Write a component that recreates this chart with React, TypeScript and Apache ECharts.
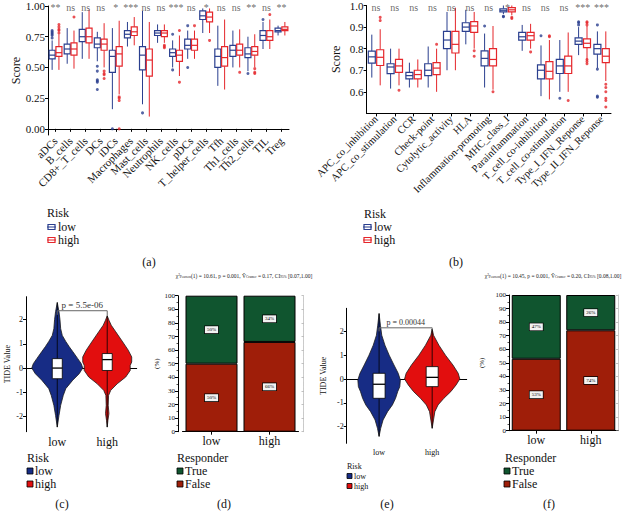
import React, { useEffect, useRef } from "react";
import * as echarts from "echarts";

const SERIF = "'Liberation Serif', 'Times New Roman', serif";
const LOW_BLUE = "#2a3f8f";
const HIGH_RED = "#e5262b";
const VIOLIN_BLUE = "#172c85";
const VIOLIN_RED = "#e20e0e";
const TRUE_GREEN = "#10552f";
const FALSE_RED = "#9f1e09";

// ---------- panel (a): immune cells ----------
const immuneCells = ["aDCs", "B_cells", "CD8+_T_cells", "DCs", "iDCs", "Macrophages", "Mast_cells", "Neutrophils", "NK_cells", "pDCs", "T_helper_cells", "Tfh", "Th1_cells", "Th2_cells", "TIL", "Treg"];
// [min, Q1, median, Q3, max]
const immuneLowBox = [
  [0.48, 0.57, 0.60, 0.64, 0.72], [0.53, 0.61, 0.65, 0.69, 0.82], [0.57, 0.71, 0.75, 0.81, 0.95], [0.55, 0.66, 0.69, 0.74, 0.79],
  [0.16, 0.46, 0.59, 0.64, 0.82], [0.67, 0.74, 0.77, 0.80, 0.87], [0.20, 0.48, 0.60, 0.67, 0.96], [0.70, 0.76, 0.78, 0.80, 0.85],
  [0.50, 0.59, 0.62, 0.65, 0.72], [0.57, 0.65, 0.68, 0.73, 0.80], [0.78, 0.89, 0.92, 0.96, 0.98], [0.35, 0.50, 0.59, 0.65, 0.84],
  [0.50, 0.59, 0.64, 0.68, 0.80], [0.47, 0.58, 0.61, 0.66, 0.75], [0.65, 0.72, 0.76, 0.80, 0.87], [0.76, 0.79, 0.80, 0.82, 0.84],
];
const immuneHighBox = [
  [0.48, 0.59, 0.62, 0.67, 0.77], [0.49, 0.60, 0.65, 0.70, 0.80], [0.57, 0.70, 0.75, 0.82, 0.97], [0.50, 0.64, 0.69, 0.73, 0.86],
  [0.28, 0.51, 0.61, 0.67, 0.88], [0.68, 0.76, 0.79, 0.83, 0.91], [0.10, 0.43, 0.56, 0.65, 0.87], [0.70, 0.75, 0.78, 0.80, 0.85],
  [0.43, 0.55, 0.60, 0.64, 0.76], [0.57, 0.64, 0.68, 0.73, 0.80], [0.78, 0.87, 0.91, 0.95, 0.98], [0.32, 0.51, 0.58, 0.67, 0.89],
  [0.50, 0.60, 0.64, 0.69, 0.81], [0.50, 0.60, 0.63, 0.67, 0.77], [0.65, 0.72, 0.75, 0.80, 0.89], [0.76, 0.80, 0.81, 0.83, 0.87],
];
const immuneLowOutliers = [[0, 0.74], [0, 0.76], [0, 0.77], [0, 0.78], [0, 0.79], [0, 0.80], [3, 0.51], [3, 0.47], [3, 0.40], [3, 0.39], [3, 0.38], [3, 0.32], [4, 0.0], [6, 0.13], [8, 0.48], [8, 0.77], [9, 0.50], [9, 0.84], [13, 0.45], [14, 0.89]];
const immuneHighOutliers = [[0, 0.78], [0, 0.80], [0, 0.81], [0, 0.83], [0, 0.85], [1, 0.91], [3, 0.47], [3, 0.45], [3, 0.44], [3, 0.41], [4, 0.26], [4, 0.25], [4, 0.23], [4, 0.0], [7, 0.68], [7, 0.67], [7, 0.66], [8, 0.38], [8, 0.80], [9, 0.84], [10, 0.72], [12, 0.46], [13, 0.49], [13, 0.46], [13, 0.45], [14, 0.93]];
const immuneSig = ["**", "ns", "ns", "ns", "*", "***", "ns", "ns", "***", "ns", "*", "ns", "ns", "**", "ns", "**"];
const immuneTicks = [0, 0.25, 0.5, 0.75, 1.0];

// ---------- panel (b): immune functions ----------
const immuneFunctions = ["APC_co_inhibition", "APC_co_stimulation", "CCR", "Check-point", "Cytolytic_activity", "HLA", "Inflammation-promoting", "MHC_class_I", "Parainflammation", "T_cell_co-inhibition", "T_cell_co-stimulation", "Type_I_IFN_Reponse", "Type_II_IFN_Reponse"];
const functionLowBox = [
  [0.666, 0.733, 0.762, 0.789, 0.865], [0.615, 0.684, 0.715, 0.73, 0.80], [0.62, 0.66, 0.675, 0.69, 0.735], [0.62, 0.675, 0.70, 0.73, 0.81],
  [0.70, 0.80, 0.84, 0.88, 0.97], [0.82, 0.88, 0.90, 0.92, 0.98], [0.62, 0.72, 0.755, 0.79, 0.87], [0.96, 0.97, 0.978, 0.985, 1.0],
  [0.79, 0.84, 0.855, 0.875, 0.91], [0.58, 0.66, 0.70, 0.725, 0.815], [0.60, 0.685, 0.72, 0.75, 0.84], [0.77, 0.82, 0.835, 0.85, 0.90],
  [0.71, 0.775, 0.80, 0.82, 0.88],
];
const functionHighBox = [
  [0.63, 0.722, 0.76, 0.795, 0.89], [0.63, 0.69, 0.72, 0.75, 0.80], [0.62, 0.66, 0.68, 0.70, 0.75], [0.60, 0.68, 0.71, 0.735, 0.80],
  [0.70, 0.78, 0.82, 0.88, 0.99], [0.80, 0.875, 0.905, 0.925, 0.97], [0.61, 0.72, 0.75, 0.80, 0.905], [0.955, 0.97, 0.98, 0.99, 1.0],
  [0.80, 0.84, 0.86, 0.875, 0.915], [0.565, 0.66, 0.695, 0.74, 0.84], [0.60, 0.685, 0.72, 0.765, 0.875], [0.745, 0.805, 0.825, 0.845, 0.905],
  [0.65, 0.735, 0.765, 0.80, 0.88],
];
const functionLowOutliers = [[6, 0.905], [7, 0.95], [7, 0.948], [9, 0.86], [10, 0.57], [11, 0.91], [11, 0.92], [11, 0.925], [12, 0.705], [12, 0.58], [12, 0.575], [12, 0.91]];
const functionHighOutliers = [[0, 0.93], [0, 0.945], [1, 0.607], [3, 0.82], [5, 0.79], [5, 0.765], [6, 0.60], [7, 0.945], [7, 0.94], [8, 0.785], [9, 0.855], [9, 0.86], [10, 0.56], [11, 0.73], [11, 0.74], [11, 0.75], [11, 0.91], [11, 0.92], [11, 0.925], [12, 0.635], [12, 0.62], [12, 0.60], [12, 0.57], [12, 0.56], [12, 0.53]];
const functionSig = ["ns", "ns", "ns", "ns", "ns", "ns", "ns", "*", "ns", "ns", "ns", "***", "***"];
const functionTicks = [0.6, 0.7, 0.8, 0.9, 1.0];

// ---------- panels (c) and (e): TIDE violins ----------
const riskGroups = ["low", "high"];
const tideTicks = [-2, -1, 0, 1, 2];
// [TIDE value, half width (in group units)]
const cLowViolin = [[2.71, 0], [2.33, 0.034], [2.0, 0.054], [1.63, 0.068], [1.35, 0.1], [1.1, 0.17], [0.88, 0.24], [0.68, 0.31], [0.39, 0.41], [0.18, 0.48], [0, 0.51], [-0.23, 0.44], [-0.5, 0.31], [-0.85, 0.17], [-1.13, 0.12], [-1.54, 0.068], [-1.96, 0.034], [-2.44, 0]];
const cHighViolin = [[2.16, 0], [1.98, 0.034], [1.77, 0.08], [1.5, 0.17], [1.08, 0.31], [0.74, 0.42], [0.46, 0.49], [0.25, 0.49], [0.11, 0.46], [-0.1, 0.46], [-0.37, 0.37], [-0.65, 0.2], [-0.92, 0.07], [-1.13, 0.027], [-1.54, 0.02], [-1.88, 0.034], [-2.16, 0.014], [-2.44, 0]];
const cLowBox = [-2.44, -0.44, 0, 0.39, 2.71];
const cHighBox = [-2.44, -0.1, 0.35, 0.6, 2.16];
const cPValue = "p = 5.5e-06";
const eLowViolin = [[2.75, 0], [2.26, 0.025], [1.84, 0.05], [1.42, 0.11], [1.0, 0.19], [0.59, 0.28], [0.24, 0.36], [-0.04, 0.40], [-0.32, 0.39], [-0.53, 0.35], [-0.81, 0.31], [-1.09, 0.25], [-1.37, 0.16], [-1.72, 0.075], [-2.07, 0.03], [-2.41, 0]];
const eHighViolin = [[2.1, 0], [1.84, 0.025], [1.42, 0.126], [1.0, 0.25], [0.59, 0.39], [0.24, 0.49], [0, 0.52], [-0.25, 0.45], [-0.53, 0.35], [-0.81, 0.22], [-1.09, 0.11], [-1.37, 0.05], [-1.72, 0.025], [-2.07, 0]];
const eLowBox = [-2.41, -0.81, -0.22, 0.24, 2.75];
const eHighBox = [-2.07, -0.32, 0.07, 0.52, 2.1];
const ePValue = "p = 0.00044";

// ---------- panels (d) and (f): responders ----------
const responderLevels = ["True", "False"];
const dFalse = [50, 66];
const dTrue = [50, 34];
const fFalse = [53, 74];
const fTrue = [47, 26];

function boxSeries(axis: number, data: number[][], offset: number, width: number, color: string) {
  return {
    type: "custom",
    xAxisIndex: axis,
    yAxisIndex: axis,
    data: data.map((b, i) => [i, ...b]),
    encode: { x: 0, y: [1, 2, 3, 4, 5] },
    renderItem: (_p: any, api: any) => {
      const i = api.value(0);
      const pMin = api.coord([i, api.value(1)]);
      const pQ1 = api.coord([i, api.value(2)]);
      const pMed = api.coord([i, api.value(3)]);
      const pQ3 = api.coord([i, api.value(4)]);
      const pMax = api.coord([i, api.value(5)]);
      const cx = pMin[0] + offset;
      const h = width / 2;
      const ls = { stroke: color, lineWidth: 1 };
      return {
        type: "group",
        children: [
          { type: "line", shape: { x1: cx, y1: pMax[1], x2: cx, y2: pQ3[1] }, style: ls },
          { type: "line", shape: { x1: cx, y1: pQ1[1], x2: cx, y2: pMin[1] }, style: ls },
          { type: "rect", shape: { x: cx - h, y: pQ3[1], width, height: pQ1[1] - pQ3[1] }, style: { fill: "#fff", stroke: color, lineWidth: 1.2 } },
          { type: "line", shape: { x1: cx - h, y1: pMed[1], x2: cx + h, y2: pMed[1] }, style: { stroke: color, lineWidth: 1.2 } },
        ],
      };
    },
  };
}

function outlierSeries(axis: number, data: number[][], offset: number, color: string) {
  return {
    type: "scatter",
    xAxisIndex: axis,
    yAxisIndex: axis,
    data,
    symbolSize: 3,
    symbolOffset: [offset, 0],
    itemStyle: { color },
    z: 5,
  };
}

function sigSeries(axis: number, labels: string[], y: number, dy: number) {
  return {
    type: "scatter",
    xAxisIndex: axis,
    yAxisIndex: axis,
    data: labels.map((_, i) => [i, y]),
    symbolSize: 1,
    itemStyle: { color: "rgba(0,0,0,0)" },
    label: {
      show: true,
      position: "inside",
      formatter: (p: any) => labels[p.dataIndex],
      fontFamily: SERIF,
      fontSize: 10,
      color: "#444",
      offset: [0, dy],
    },
    z: 6,
  };
}

function violinSeries(axis: number, x: number, profile: number[][], box: number[], color: string, boxW: number) {
  return {
    type: "custom",
    xAxisIndex: axis,
    yAxisIndex: axis,
    data: [[x, box[2]]],
    renderItem: (_p: any, api: any) => {
      const right = profile.map(([v, w]) => api.coord([x + w, v]));
      const left = profile.slice(1, -1).reverse().map(([v, w]) => api.coord([x - w, v]));
      const pts = right.concat(left);
      const top = api.coord([x, box[4]]);
      const bot = api.coord([x, box[0]]);
      const q1 = api.coord([x, box[1]]);
      const q3 = api.coord([x, box[3]]);
      const med = api.coord([x, box[2]]);
      return {
        type: "group",
        children: [
          { type: "polygon", shape: { points: pts }, style: { fill: color, stroke: "#1a1a1a", lineWidth: 0.8, lineJoin: "round" } },
          { type: "line", shape: { x1: top[0], y1: top[1], x2: bot[0], y2: bot[1] }, style: { stroke: "#000", lineWidth: 0.8 } },
          { type: "rect", shape: { x: q3[0] - boxW / 2, y: q3[1], width: boxW, height: q1[1] - q3[1] }, style: { fill: "#fff", stroke: "#000", lineWidth: 0.8 } },
          { type: "line", shape: { x1: med[0] - boxW / 2, y1: med[1], x2: med[0] + boxW / 2, y2: med[1] }, style: { stroke: "#000", lineWidth: 1.3 } },
        ],
      };
    },
  };
}

function bracketSeries(axis: number, y: number, dropL: number, dropR: number, text: string, fontSize: number) {
  return {
    type: "custom",
    xAxisIndex: axis,
    yAxisIndex: axis,
    data: [[1, y]],
    z: 10,
    renderItem: (_p: any, api: any) => {
      const a = api.coord([1, y]);
      const b = api.coord([2, y]);
      const al = api.coord([1, dropL]);
      const br = api.coord([2, dropR]);
      const st = { stroke: "#666", lineWidth: 1 };
      return {
        type: "group",
        children: [
          { type: "line", shape: { x1: a[0], y1: a[1], x2: b[0], y2: b[1] }, style: st },
          { type: "line", shape: { x1: a[0], y1: a[1], x2: al[0], y2: al[1] }, style: st },
          { type: "line", shape: { x1: b[0], y1: b[1], x2: br[0], y2: br[1] }, style: st },
          { type: "text", x: (a[0] + b[0]) / 2, y: a[1] - 1, style: { text, fill: "#333", font: `${fontSize}px ${SERIF}`, align: "center", verticalAlign: "bottom", textAlign: "center", textVerticalAlign: "bottom" } },
        ],
      };
    },
  };
}

function stackSeries(axis: number, name: string, data: number[], color: string, barWidth: number) {
  return {
    type: "bar",
    name,
    xAxisIndex: axis,
    yAxisIndex: axis,
    stack: "s" + axis,
    data,
    barWidth,
    itemStyle: { color, borderColor: "#000", borderWidth: 1 },
    label: {
      show: true,
      position: "inside",
      formatter: "{c}%",
      fontFamily: SERIF,
      fontSize: 5,
      color: "#000",
      backgroundColor: "#f2f2f2",
      borderColor: "#000",
      borderWidth: 0.7,
      padding: [1, 2],
    },
  };
}

function txt(text: string, x: number, y: number, size: number, opts: any = {}) {
  return {
    type: "text",
    x,
    y,
    rotation: opts.rotation || 0,
    style: {
      text,
      fill: opts.fill || "#111",
      font: `${size}px ${SERIF}`,
      align: opts.align || "left",
      textAlign: opts.align || "left",
      verticalAlign: "middle",
      textVerticalAlign: "middle",
    },
  };
}

function boxKey(x: number, y: number, color: string) {
  return {
    type: "group",
    children: [
      { type: "line", shape: { x1: x - 1, y1: y, x2: x + 8, y2: y }, style: { stroke: color, lineWidth: 1 } },
      { type: "rect", shape: { x, y: y - 2.5, width: 7, height: 5 }, style: { fill: "#fff", stroke: color, lineWidth: 1.2 } },
      { type: "line", shape: { x1: x, y1: y, x2: x + 7, y2: y }, style: { stroke: color, lineWidth: 1 } },
    ],
  };
}

function squareKey(x: number, y: number, size: number, color: string) {
  return { type: "rect", shape: { x, y: y - size / 2, width: size, height: size }, style: { fill: color, stroke: "#000", lineWidth: 0.8 } };
}

const axisLineBlack = { show: true, lineStyle: { color: "#000", width: 1 } };

function catX(grid: number, data: string[], fontSize: number, rotate: number, margin: number) {
  return {
    type: "category",
    gridIndex: grid,
    data,
    axisLine: axisLineBlack,
    axisTick: { show: true, alignWithLabel: true, length: 3, lineStyle: { color: "#000" } },
    axisLabel: { interval: 0, rotate, fontFamily: SERIF, fontSize, color: "#111", margin },
    splitLine: { show: false },
  };
}

function valX(grid: number, min: number, max: number, fontSize: number, margin: number) {
  return {
    type: "value",
    gridIndex: grid,
    min,
    max,
    axisLine: axisLineBlack,
    axisTick: { show: true, customValues: [1, 2], length: 3, lineStyle: { color: "#000" } },
    axisLabel: { customValues: [1, 2], formatter: (v: number) => riskGroups[Math.round(v) - 1], fontFamily: SERIF, fontSize, color: "#111", margin },
    splitLine: { show: false },
  };
}

function valY(grid: number, min: number, max: number, ticks: number[], digits: number, fontSize: number, name: string, nameSize: number, nameGap: number) {
  return {
    type: "value",
    gridIndex: grid,
    min,
    max,
    name,
    nameLocation: "middle",
    nameGap,
    nameTextStyle: { fontFamily: SERIF, fontSize: nameSize, color: "#111" },
    axisLine: axisLineBlack,
    axisTick: { show: true, customValues: ticks, length: 3, lineStyle: { color: "#000" } },
    axisLabel: { customValues: ticks, formatter: (v: number) => v.toFixed(digits), fontFamily: SERIF, fontSize, color: "#111", margin: 3 },
    splitLine: { show: false },
  };
}

function pctY(grid: number, offset: number, nameGap: number) {
  return {
    type: "value",
    gridIndex: grid,
    min: 0,
    max: 100,
    interval: 10,
    offset,
    name: "(%)",
    nameLocation: "middle",
    nameGap,
    nameTextStyle: { fontFamily: SERIF, fontSize: 7, color: "#111" },
    axisLine: axisLineBlack,
    axisTick: { show: true, length: 3, lineStyle: { color: "#000" } },
    minorTick: { show: true, splitNumber: 2, length: 1.5, lineStyle: { color: "#555" } },
    axisLabel: { fontFamily: SERIF, fontSize: 7, color: "#111", margin: 3 },
    splitLine: { show: false },
  };
}

function pctRight(grid: number, offset: number) {
  return {
    type: "value",
    gridIndex: grid,
    position: "right",
    offset,
    min: 0,
    max: 100,
    interval: 10,
    axisLine: { show: true, lineStyle: { color: "#aaa", width: 0.6, type: "dotted" } },
    axisTick: { show: true, inside: true, length: 2, lineStyle: { color: "#999", width: 0.6 } },
    axisLabel: { show: false },
    splitLine: { show: false },
  };
}

function chiTitle(x: number, y: number, stat: string, v: string, ci: string) {
  const base = { fontFamily: SERIF, fontSize: 5.5, fill: "#222", color: "#222" };
  const small = { fontFamily: SERIF, fontSize: 3.5, fill: "#222", color: "#222", verticalAlign: "bottom" };
  return {
    type: "text",
    x,
    y,
    style: {
      text: `{t|χ}{s|2}{b|Pearson}{t|(1) = ${stat}, p = 0.001, }{t|V̂}{b|Cramer}{t| = ${v}, CI}{b|95%}{t| ${ci}}`,
      align: "center",
      textAlign: "center",
      verticalAlign: "middle",
      textVerticalAlign: "middle",
      rich: { t: base, s: { ...small, verticalAlign: "top" }, b: small },
    },
  };
}

export default function App() {
  const ref = useRef<HTMLDivElement>(null);
  useEffect(() => {
    if (!ref.current) return;
    const chart = echarts.init(ref.current, undefined, { renderer: "svg" });
    const option: any = {
      animation: false,
      backgroundColor: "#fff",
      textStyle: { fontFamily: SERIF },
      grid: [
        { left: 48, top: 6, width: 241, height: 129 },
        { left: 366.6, top: 4.7, width: 244.4, height: 108.7 },
        { left: 26, top: 296.7, width: 110.7, height: 135 },
        { left: 182.5, top: 295.7, width: 116, height: 136 },
        { left: 346.7, top: 308.3, width: 120, height: 135 },
        { left: 509, top: 295, width: 109, height: 135.7 },
      ],
      xAxis: [
        catX(0, immuneCells, 11, 45, 4),
        catX(1, immuneFunctions, 10.5, 45, 4),
        valX(2, 0.374, 2.59, 12, 4),
        catX(3, riskGroups, 12, 0, 3),
        valX(4, 0.39, 2.65, 8, 5),
        catX(5, riskGroups, 12, 0, 3),
      ],
      yAxis: [
        valY(0, -0.05, 1.0, immuneTicks, 2, 11, "Score", 12, 25),
        valY(1, 0.5, 1.0, functionTicks, 1, 11, "Score", 12, 25),
        valY(2, -2.63, 2.95, tideTicks, 0, 8, "TIDE Value", 8, 15),
        pctY(3, 4.5, 17),
        valY(4, -2.7, 2.97, tideTicks, 0, 8, "TIDE Value", 8, 19),
        pctY(5, 0, 24),
        pctRight(3, 5),
        pctRight(5, 0),
      ],
      series: [
        boxSeries(0, immuneLowBox, -3.4, 6, LOW_BLUE),
        boxSeries(0, immuneHighBox, 3.4, 6, HIGH_RED),
        outlierSeries(0, immuneLowOutliers, -3.4, LOW_BLUE),
        outlierSeries(0, immuneHighOutliers, 3.4, HIGH_RED),
        sigSeries(0, immuneSig, 1.0, 1),
        boxSeries(1, functionLowBox, -4.2, 7, LOW_BLUE),
        boxSeries(1, functionHighBox, 4.2, 7, HIGH_RED),
        outlierSeries(1, functionLowOutliers, -4.2, LOW_BLUE),
        outlierSeries(1, functionHighOutliers, 4.2, HIGH_RED),
        sigSeries(1, functionSig, 1.0, 2),
        violinSeries(2, 1, cLowViolin, cLowBox, VIOLIN_BLUE, 10),
        violinSeries(2, 2, cHighViolin, cHighBox, VIOLIN_RED, 10),
        bracketSeries(2, 2.37, 2.2, 2.16, cPValue, 9),
        stackSeries(3, "False", dFalse, FALSE_RED, 52),
        stackSeries(3, "True", dTrue, TRUE_GREEN, 52),
        violinSeries(4, 1, eLowViolin, eLowBox, VIOLIN_BLUE, 12),
        violinSeries(4, 2, eHighViolin, eHighBox, VIOLIN_RED, 12),
        bracketSeries(4, 2.15, 2.0, 2.05, ePValue, 8),
        stackSeries(5, "False", fFalse, FALSE_RED, 49),
        stackSeries(5, "True", fTrue, TRUE_GREEN, 49),
      ],
      graphic: [
        // (a) legend
        txt("Risk", 47, 213, 12),
        boxKey(48, 227, LOW_BLUE),
        txt("low", 58, 227, 12),
        boxKey(48, 240, HIGH_RED),
        txt("high", 58, 240, 12),
        txt("(a)", 149, 261.5, 12, { align: "center" }),
        // (b) legend
        txt("Risk", 364, 214, 12),
        boxKey(364, 227, LOW_BLUE),
        txt("low", 374, 227, 12),
        boxKey(364, 240, HIGH_RED),
        txt("high", 374, 240, 12),
        txt("(b)", 456, 261.5, 12, { align: "center" }),
        // (c) legend
        txt("Risk", 27, 458, 12),
        squareKey(27, 471, 6, VIOLIN_BLUE),
        txt("low", 35, 471, 12),
        squareKey(27, 484, 6, VIOLIN_RED),
        txt("high", 35, 484, 12),
        txt("(c)", 62, 504, 12, { align: "center" }),
        // (d) legend and title
        chiTitle(244, 276, "10.61", "0.17", "[0.07,1.00]"),
        txt("Responder", 177, 458, 12),
        squareKey(177, 471, 6, TRUE_GREEN),
        txt("True", 185, 471, 12),
        squareKey(177, 484, 6, FALSE_RED),
        txt("False", 185, 484, 12),
        txt("(d)", 224, 504, 12, { align: "center" }),
        // (e) legend
        txt("Risk", 347, 466, 8),
        squareKey(347, 476, 5, VIOLIN_BLUE),
        txt("low", 354, 476, 8),
        squareKey(347, 486, 5, VIOLIN_RED),
        txt("high", 354, 486, 8),
        txt("(e)", 387, 504, 12, { align: "center" }),
        // (f) legend and title
        chiTitle(553, 276, "10.45", "0.20", "[0.08,1.00]"),
        txt("Responder", 505, 458, 12),
        squareKey(504, 471, 6, TRUE_GREEN),
        txt("True", 512, 471, 12),
        squareKey(504, 484, 6, FALSE_RED),
        txt("False", 512, 484, 12),
        txt("(f)", 549, 504, 12, { align: "center" }),
      ],
    };
    chart.setOption(option);
    return () => chart.dispose();
  }, []);
  return <div ref={ref} style={{ position: "absolute", left: 0, top: 0, width: 622, height: 511 }} />;
}
